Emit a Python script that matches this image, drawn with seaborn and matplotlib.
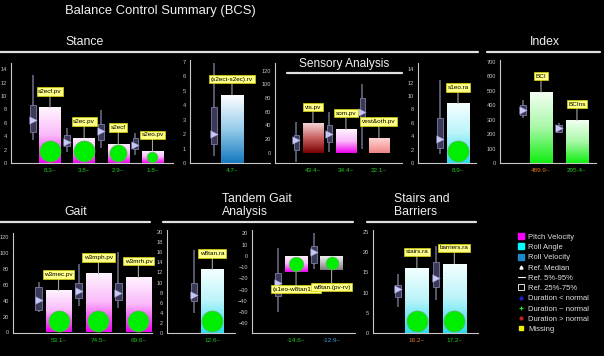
import numpy as np
import pandas as pd
import matplotlib
matplotlib.use("Agg")
import matplotlib.pyplot as plt
import seaborn as sns
from matplotlib.ticker import MultipleLocator, AutoMinorLocator
from matplotlib.colors import LinearSegmentedColormap
from matplotlib.lines import Line2D

# ---------------- data ----------------
stance_names = ["s2ecf.pv", "s2ec.pv", "s2ecf", "s2eo.pv"]
stance_vals = [8.3, 3.8, 2.9, 1.8]
stance_kind = ["pv", "pv", "pv", "pv"]
stance_ref = [[3.5, 4.7, 6.4, 8.7, 13.2], [1.7, 2.5, 3.2, 4.2, 5.2],
              [2.2, 3.5, 4.8, 5.9, 7.9], [1.2, 2.1, 2.7, 3.7, 4.5]]
stance_status = ["normal", "normal", "normal", "normal"]

rv_names = ["(s2ect-s2ec).rv"]
rv_vals = [4.7]
rv_kind = ["rv"]
rv_ref = [[0.5, 1.3, 2.0, 3.9, 6.9]]
rv_status = ["normal"]

sens_names = ["vis.pv", "som.pv", "vest&oth.pv"]
sens_vals = [43.4, 34.4, 22.1]
sens_kind = ["vis", "pv", "vest"]
sens_ref = [[-14, 4, 18.5, 26, 45], [1.5, 16, 27, 40.5, 60], [6, 52.7, 59, 79.5, 101]]
sens_status = ["normal", "normal", "normal"]

s1eo_names = ["s1eo.ra"]
s1eo_vals = [8.9]
s1eo_kind = ["ra"]
s1eo_ref = [[1.4, 2.2, 3.6, 6.7, 12.4]]
s1eo_status = ["normal"]

index_names = ["BCI", "BCIns"]
index_vals = [489.9, 295.4]
index_kind = ["idx", "idx"]
index_ref = [[310, 333, 367, 400, 436], [206, 216, 240, 262, 274]]
index_status = ["above", "normal"]

gait_names = ["w3mec.pv", "w3mph.pv", "w3mrh.pv"]
gait_vals = [53.1, 74.5, 69.6]
gait_kind = ["pv", "pv", "pv"]
gait_ref = [[26, 28, 41, 58, 64], [33, 43, 52, 62, 87], [31, 41, 50, 62, 102]]
gait_status = ["normal", "normal", "normal"]

tan1_names = ["w8tan.ra"]
tan1_vals = [12.6]
tan1_kind = ["ra"]
tan1_ref = [[3.9, 6.3, 7.5, 10.0, 16.5]]
tan1_status = ["normal"]

tan2_names = ["(s1eo-w8tan1).pl", "w8tan.(pv-rv)"]
tan2_vals = [-14.6, -12.9]
tan2_kind = ["pv", "gray"]
tan2_ref = [[-49.7, -35.7, -24.4, -15.0, 6.7], [-12.0, -6.0, 3.7, 8.7, 20.5]]
tan2_status = ["normal", "below"]

stairs_names = ["stairs.ra", "barriers.ra"]
stairs_vals = [16.2, 17.2]
stairs_kind = ["ra", "ra"]
stairs_ref = [[6.3, 9.0, 10.8, 11.9, 14.7], [8.1, 11.5, 13.7, 17.7, 21.7]]
stairs_status = ["above", "normal"]

legend_labels = ["Pitch Velocity", "Roll Angle", "Roll Velocity", "Ref. Median",
                 "Ref. 5%-95%", "Ref. 25%-75%", "Duration < normal",
                 "Duration ~ normal", "Duration > normal", "Missing"]

# ---------------- style ----------------
sns.set_theme(style="dark")
plt.rcParams['font.family'] = ['Liberation Sans', 'DejaVu Sans']
plt.rcParams['axes.facecolor'] = 'black'
plt.rcParams['figure.facecolor'] = 'black'

GRAD = {
    "pv": ["#FFF6FF", "#FABAFA", "#EE00EE"],
    "ra": ["#F6FFFF", "#BAF4FA", "#28DCEE"],
    "rv": ["#FFFFFF", "#96CCEA", "#1478BE"],
    "idx": ["#F4FFF4", "#A8F8A8", "#10EE10"],
    "vis": ["#F6D6D6", "#C86060", "#7A0000"],
    "vest": ["#FFDADA", "#F8B0B0", "#EE8484"],
    "gray": ["#F6F6F6", "#C0C0C0", "#7C7C7C"],
}
STATUS_COL = {"normal": "#22C822", "above": "#E07818", "below": "#3A9AD8"}
AXCOL = "#C8C8C8"

W, H = 604, 356
fig = plt.figure(figsize=(W / 100, H / 100), dpi=100, facecolor='black')


def add_ax(x0, x1, yt, yb):
    return fig.add_axes([x0 / W, 1 - yb / H, (x1 - x0) / W, (yb - yt) / H])


def panel(rect, names, vals, kinds, refs, status, xlim, ylim, ystep, dots):
    ax = add_ax(*rect)
    df = pd.DataFrame({"name": names, "value": vals})
    sns.barplot(data=df, x="name", y="value", order=names, ax=ax,
                width=0.63, color="white", errorbar=None, zorder=2)
    for p, k in zip(ax.patches, kinds):
        x0, x1 = p.get_x(), p.get_x() + p.get_width()
        ya, yb = sorted([p.get_y(), p.get_y() + p.get_height()])
        cmap = LinearSegmentedColormap.from_list("g", GRAD[k])
        grad = np.linspace(0, 1, 256).reshape(-1, 1)
        im = ax.imshow(grad, extent=(x0, x1, ya, yb), origin='upper',
                       aspect='auto', cmap=cmap, zorder=2)
        im.set_clip_path(p)
        p.set_facecolor('none')
        p.set_edgecolor('none')
    refs = np.array(refs, dtype=float)
    xs = np.arange(len(names)) - 0.5
    ax.vlines(xs, refs[:, 0], refs[:, 4], color="#70708A", lw=1.1, zorder=3)
    ax.bar(xs, refs[:, 3] - refs[:, 1], bottom=refs[:, 1], width=0.16,
           color="#3A3A58", edgecolor="#7C7CA4", lw=0.6, zorder=3)
    ax.scatter(xs, refs[:, 2], marker='>', s=30, color="#C8C8F8",
               edgecolor="#9090C0", lw=0.3, zorder=4)
    ax.set_xlim(*xlim)
    ax.set_ylim(*ylim)
    hpx = (rect[3] - rect[2])
    ppu = hpx / (ylim[1] - ylim[0])
    for i, (v, st) in enumerate(zip(vals, status)):
        up = v >= 0
        ax.annotate(names[i], xy=(i, v), xytext=(0, (16 if up else -17) * 0.72),
                    textcoords='offset points', ha='center', va='center',
                    fontsize=4.6, color='black', zorder=6,
                    bbox=dict(boxstyle='square,pad=0.25', fc='#FFFF88', ec='#D8D800', lw=0.5),
                    arrowprops=dict(arrowstyle='-', color='#A0A0A0', lw=0.8,
                                    shrinkA=0, shrinkB=0))
        ax.annotate(f"{v:.1f}~", xy=(i, 0), xycoords=('data', 'axes fraction'),
                    xytext=(0, -8 * 0.72), textcoords='offset points',
                    ha='center', va='center', fontsize=4.6, color=STATUS_COL[st])
        if dots:
            hb = abs(v) * ppu
            d = min(21.0, 0.88 * hb)
            off = min(d / 2 + 1.2, hb / 2)
            yc = (off / ppu) * (1 if up else -1)
            ax.scatter([i], [yc], s=(d * 0.72) ** 2, color="#00EE00",
                       edgecolor="#60B060", lw=0.5, zorder=5)
    for s in ["top", "right"]:
        ax.spines[s].set_visible(False)
    for s in ["left", "bottom"]:
        ax.spines[s].set_color(AXCOL)
        ax.spines[s].set_linewidth(0.8)
    ax.set_xticks([])
    ax.xaxis.set_minor_locator(MultipleLocator(0.16))
    ax.yaxis.set_major_locator(MultipleLocator(ystep))
    ax.yaxis.set_minor_locator(AutoMinorLocator(4))
    ax.tick_params(axis='both', which='both', colors=AXCOL, labelsize=4.1,
                   length=2, width=0.5, pad=1, direction='out')
    ax.tick_params(which='minor', length=1)
    ax.set_xlabel("")
    ax.set_ylabel("")
    ax.grid(False)
    return ax


panel((11, 173, 63, 163), stance_names, stance_vals, stance_kind, stance_ref,
      stance_status, (-1.14, 3.60), (0, 14.94), 2, True)
panel((190, 270, 60, 163), rv_names, rv_vals, rv_kind, rv_ref,
      rv_status, (-1.17, 1.06), (0, 7.12), 1, False)
panel((275, 402, 63, 163), sens_names, sens_vals, sens_kind, sens_ref,
      sens_status, (-1.15, 2.70), (-15.1, 131.3), 20, False)
panel((418, 476, 63, 163), s1eo_names, s1eo_vals, s1eo_kind, s1eo_ref,
      s1eo_status, (-1.11, 0.50), (0, 14.94), 2, True)
panel((500, 596, 60, 163), index_names, index_vals, index_kind, index_ref,
      index_status, (-1.14, 1.53), (0, 712), 100, False)
panel((13, 152, 233, 332.5), gait_names, gait_vals, gait_kind, gait_ref,
      gait_status, (-1.14, 2.34), (0, 125.6), 20, True)
panel((167, 235, 230, 332.7), tan1_names, tan1_vals, tan1_kind, tan1_ref,
      tan1_status, (-1.26, 0.63), (0, 20.46), 2, True)
panel((252, 355, 230, 332.7), tan2_names, tan2_vals, tan2_kind, tan2_ref,
      tan2_status, (-1.24, 1.66), (-68.4, 22.9), 10, True)
panel((373, 478, 230, 332.7), stairs_names, stairs_vals, stairs_kind, stairs_ref,
      stairs_status, (-1.17, 1.63), (0, 25.57), 5, True)

# ---------------- titles and rules ----------------
TCOL = "#F0F0F0"


def ftext(x, y, s, size=8.8, **kw):
    fig.text(x / W, 1 - y / H, s, color=TCOL, fontsize=size, va='center', ha='left',
             linespacing=1.15, **kw)


def rule(x0, x1, y):
    fig.add_artist(Line2D([x0 / W, x1 / W], [1 - y / H, 1 - y / H],
                          color="#E0E0E0", lw=1.6))


ftext(65, 11, "Balance Control Summary (BCS)", size=9.4)
ftext(65, 42, "Stance")
ftext(530, 42, "Index")
ftext(299, 64, "Sensory Analysis", size=8.6)
ftext(64, 212, "Gait")
ftext(222, 205.5, "Tandem Gait\nAnalysis")
ftext(394, 205.5, "Stairs and\nBarriers")
rule(0, 478, 52)
rule(487, 600, 52)
rule(287, 402, 73)
rule(0, 150, 222)
rule(163, 353, 222)
rule(367, 476, 222)

# ---------------- legend ----------------
handles = [
    Line2D([], [], marker='s', ls='', color='#FF00FF', ms=4),
    Line2D([], [], marker='s', ls='', color='#00FFFF', ms=4),
    Line2D([], [], marker='s', ls='', color='#1E88C8', ms=4),
    Line2D([], [], marker='^', ls='', color='white', ms=2.2),
    Line2D([], [], ls='-', color='white', lw=0.8),
    Line2D([], [], marker='s', ls='', mfc='none', mec='white', ms=4, mew=0.6),
    Line2D([], [], marker='o', ls='', color='#2020C8', ms=2),
    Line2D([], [], marker='+', ls='', color='#20E020', ms=3, mew=0.8),
    Line2D([], [], marker='o', ls='', color='#C82020', ms=2),
    Line2D([], [], marker='s', ls='', color='#F0F000', ms=3),
]
leg = fig.legend(handles, legend_labels, loc='upper left',
                 bbox_to_anchor=(518 / W, 1 - 233.5 / H), frameon=False,
                 fontsize=5.5, labelcolor='#E0E0E0', handlelength=0.9,
                 handletextpad=0.4, labelspacing=0.38, borderpad=0,
                 borderaxespad=0)

fig.savefig("out.png", dpi=100, facecolor='black')
